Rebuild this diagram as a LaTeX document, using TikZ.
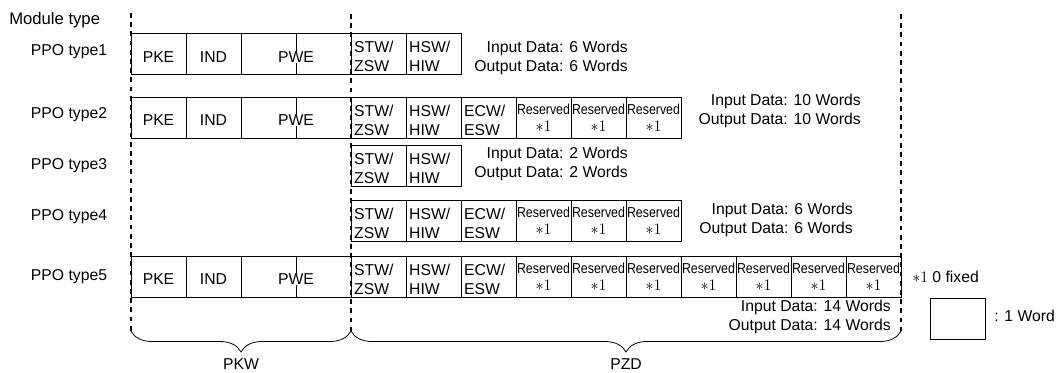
\documentclass[tikz,border=0pt]{standalone}
\usepackage{fontspec}
\setmainfont{Liberation Sans}
\usepackage{tikz}
\usetikzlibrary{positioning,decorations.pathreplacing}

\begin{document}
\begin{tikzpicture}[x=0.75pt,y=-0.75pt,
  fs/.style={font=\fontsize{11.8}{13.9}\selectfont},
  cell/.style={draw,line width=0.6pt,minimum width=41.25pt,minimum height=30.75pt,inner sep=0pt,outer sep=0pt},
  word/.style={cell,fs,text height=12pt,text depth=0pt},
  dword/.style={word,minimum width=82.5pt},
  ctrl/.style={cell,font=\fontsize{11.8}{14.25}\selectfont,align=left,text width=36.5pt,text height=12.6pt},
  rsv/.style={cell,font=\fontsize{10.8}{12.75}\selectfont,align=center},
  info/.style={fs,align=right,anchor=base east,inner sep=0pt},
  lbl/.style={fs,inner sep=0pt},
  sep/.style={line width=1.3pt,dash pattern=on 3.6pt off 3.3pt},
  brc/.style={decorate,decoration={brace,mirror,amplitude=15.75pt},line width=0.6pt}]
 \useasboundingbox (0,0) rectangle (1057,372);
 % row titles
 \node[lbl,anchor=base west,font=\fontsize{12.5}{14}\selectfont] (mt) at (9,24) {Module type};
 \node[lbl,anchor=base] (t1) at (69,55) {PPO type1};
 \node[lbl,anchor=base] (t2) at (69,118) {PPO type2};
 \node[lbl,anchor=base] (t3) at (69,169) {PPO type3};
 \node[lbl,anchor=base] (t4) at (69,220) {PPO type4};
 \node[lbl,anchor=base] (t5) at (69,280) {PPO type5};
 % PKW words
 \foreach \r/\y in {1/54,2/117.5,5/276.5}{
  \node[word] (pke\r) at (158.5,\y) {PKE};
  \node[word,right=0pt of pke\r] (ind\r) {IND};
  \node[dword,right=0pt of ind\r] (pwe\r) {PWE};
  \draw[line width=0.6pt] (pwe\r.north) -- ++(0,18);
  \draw[line width=0.6pt] (pwe\r.south) -- ++(0,-12);
 }
 % PZD words
 \foreach \r/\y in {1/54,2/117.5,3/165.5,4/221,5/276.5}{
  \node[ctrl] (stw\r) at (378.5,\y) {STW/\\ZSW};
  \node[ctrl,right=0pt of stw\r] (hsw\r) {HSW/\\HIW};
 }
 \foreach \r in {2,4,5}
  \node[ctrl,right=0pt of hsw\r] (ecw\r) {ECW/\\ESW};
 \foreach \r/\y/\n in {2/117.5/3,4/221/3,5/276.5/7}
  \foreach \i in {1,...,\n}
   \node[rsv] (res\r-\i) at (488.5+55*\i,\y)
     {\scalebox{0.86}[1]{Reserved}\\{\fontsize{12}{12.75}\selectfont$\ast1$}};
 % data size (anchored at the last line)
 \node[info] (io1) at (628,71) {Input Data: 6 Words\\Output Data: 6 Words};
 \node[info] (io2) at (861,124) {Input Data: 10 Words\\Output Data: 10 Words};
 \node[info] (io3) at (628,177) {Input Data: 2 Words\\Output Data: 2 Words};
 \node[info] (io4) at (853,233) {Input Data: 6 Words\\Output Data: 6 Words};
 \node[info] (io5) at (891,330) {Input Data: 14 Words\\Output Data: 14 Words};
 % legend
 \node[lbl,anchor=west] (fx) at (912,277) {$\ast1$ 0 fixed};
 \node[cell] (key) at (957.5,318.5) {};
 \node[lbl,anchor=west] (keyt) at (994,316) {: 1 Word};
 % PKW / PZD split
 \coordinate (s1t) at (131,13);  \coordinate (s1b) at (131,331);
 \coordinate (s2t) at (351,14);  \coordinate (s2b) at (351,331);
 \coordinate (s3t) at (901,14);  \coordinate (s3b) at (901,331);
 \begin{scope}[sep]
 \draw (s1t) -- (s1b); \draw (s2t) -- (s2b); \draw (s3t) -- (s3b);
 \end{scope}
 \draw[brc] (s1b) -- (s2b);
 \draw[brc] (s2b) -- (s3b);
 \node[lbl] (pkw) at (241,364) {PKW};
 \node[lbl] (pzd) at (626,364) {PZD};
\end{tikzpicture}
\end{document}
